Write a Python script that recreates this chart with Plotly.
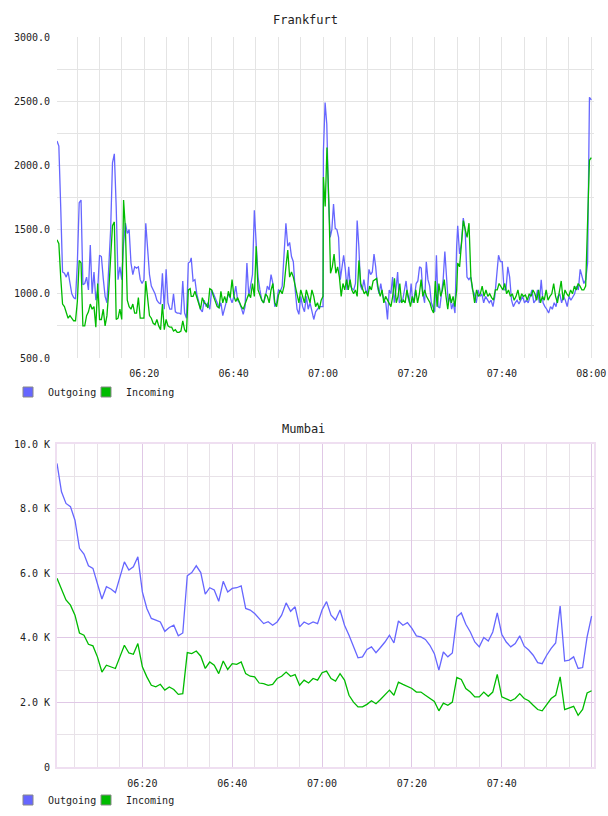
import pandas as pd
import plotly.graph_objects as go

DAY = '2024-01-01 '
MONO = 'DejaVu Sans Mono'
BLUE = '#6666ff'
GREEN = '#00bb00'
FRA_GRID = '#e4e4e4'
MUM_MAJOR = '#e0c8e6'
MUM_MINOR = '#e8e2e8'
MUM_FRAME = '#efdff1'

# ---------------- Frankfurt (30 s samples, four read-off segments) ----------------
FRA_SEG_START = ['06:00:30', '06:30:31', '07:00:05', '07:30:07']
FRA_SEG_END = ['06:30:17', '07:00:00', '07:29:53', '08:00:00']

fra_out_1 = [2190, 2150, 1680, 1170, 1160, 1130, 1170, 1080, 1000, 970,
             960, 1240, 1710, 1730, 1070, 1080, 1130, 1030, 1380, 1000,
             1170, 950, 1030, 1300, 1290, 1120, 980, 930, 1260, 1500,
             2020, 2090, 1680, 1110, 1210, 1110, 1390, 1550, 1470, 1500,
             1240, 1150, 1210, 1200, 1210, 1110, 1080, 1110, 1550, 1340,
             1150, 1060, 1030, 1000, 950, 930, 920, 1160, 880, 1190,
             930, 880, 880, 1000, 860, 850, 850, 840, 1100, 850,
             810, 1240, 1250]
fra_in_1 = [1420, 1390, 1130, 920, 900, 860, 810, 830, 810, 790,
            790, 940, 1260, 1240, 750, 750, 830, 860, 920, 880,
            900, 740, 1080, 800, 800, 880, 750, 830, 1030, 1240,
            1530, 1560, 800, 810, 880, 800, 1730, 1500, 950, 900,
            880, 920, 850, 850, 970, 810, 810, 810, 1100, 980,
            830, 810, 770, 760, 800, 750, 720, 920, 720, 800,
            750, 740, 740, 710, 720, 700, 700, 710, 790, 720,
            700, 1030, 1040]
fra_out_2 = [1280, 1100, 1110, 1000, 950, 880, 860, 950, 900, 930,
             880, 1030, 1000, 970, 930, 890, 930, 830, 880, 930,
             1000, 970, 930, 980, 1060, 950, 930, 890, 840, 900,
             1240, 980, 1080, 1150, 1650, 1340, 1130, 1030, 950, 930,
             980, 1060, 1030, 1150, 1080, 900, 930, 1030, 1020, 1060,
             1290, 1550, 1370, 1400, 1290, 1250, 1030, 880, 840, 980,
             900, 860, 980, 880, 930, 850, 800, 860, 880, 900,
             900, 900]
fra_in_2 = [980, 980, 1020, 970, 930, 880, 970, 930, 920, 890,
            1040, 1030, 980, 930, 900, 890, 1020, 930, 980, 930,
            1020, 970, 1110, 980, 940, 970, 930, 900, 880, 920,
            970, 1000, 970, 1080, 980, 1370, 1030, 980, 950, 930,
            1000, 980, 930, 1030, 1080, 930, 900, 990, 1030, 1000,
            1060, 1210, 1340, 1130, 1170, 1130, 1060, 980, 930, 1030,
            980, 930, 1030, 980, 930, 1030, 980, 900, 930, 880,
            950, 980]
fra_out_3 = [2110, 2490, 2320, 1750, 1440, 1500, 1700, 1510, 1500, 1440,
             1110, 1190, 1300, 1190, 1030, 1210, 1060, 1040, 1030, 1080,
             1570, 1370, 1060, 1030, 1110, 1030, 1000, 1190, 1150, 1170,
             1310, 1210, 1060, 1000, 1080, 1000, 950, 930, 800, 1030,
             1000, 1130, 930, 1030, 1170, 930, 950, 950, 1030, 1100,
             980, 930, 1080, 930, 980, 1080, 1100, 1210, 1200, 1000,
             930, 1250, 1110, 1060, 930, 900, 860, 1300, 900, 890,
             1030, 1110, 1330, 1080, 930, 980, 880, 930, 850, 1370]
fra_in_3 = [1910, 1680, 2140, 1750, 1160, 1210, 1310, 1160, 1210, 1130,
            980, 1080, 1030, 1110, 1030, 1110, 1030, 1000, 1030, 980,
            1260, 1080, 1030, 1000, 1020, 980, 1060, 1030, 1100, 1110,
            1120, 1030, 980, 1030, 930, 980, 950, 930, 900, 980,
            1120, 930, 980, 1080, 930, 950, 930, 1030, 950, 900,
            980, 930, 1030, 930, 1000, 1110, 980, 1030, 980, 950,
            930, 880, 850, 1100, 900, 1080, 980, 1030, 1110, 980,
            880, 1000, 930, 980, 900, 1030]
fra_out_4 = [1530, 1310, 1390, 1590, 1500, 1130, 1110, 1130, 1030, 1000,
             930, 1030, 980, 1000, 930, 980, 950, 930, 950, 900,
             980, 1130, 1300, 1250, 1250, 1030, 1030, 1210, 1130, 950,
             900, 930, 950, 920, 950, 980, 930, 950, 930, 980,
             1030, 930, 950, 1030, 930, 1110, 930, 900, 880, 850,
             900, 880, 930, 900, 980, 1000, 930, 980, 950, 900,
             980, 950, 980, 1000, 1060, 1030, 1190, 1130, 1080, 1110,
             1240, 2530, 2510]
fra_in_4 = [1240, 1210, 1390, 1570, 1500, 1440, 1550, 1130, 1030, 930,
            1030, 980, 1000, 1060, 980, 1030, 980, 1000, 970, 950,
            1030, 1030, 1080, 1060, 1030, 1080, 1000, 1030, 980, 1000,
            950, 980, 1030, 950, 1000, 980, 990, 950, 1000, 980,
            1030, 1000, 950, 1030, 930, 980, 950, 1030, 950, 980,
            1000, 1080, 980, 930, 1030, 1100, 950, 1030, 1000, 980,
            1030, 1000, 1060, 1030, 1080, 1060, 1030, 1030, 1060, 1550,
            2040, 2060]

FRA_Y_TICKS = [500, 1000, 1500, 2000, 2500, 3000]
FRA_X_LABELS = ['06:20', '06:40', '07:00', '07:20', '07:40', '08:00']

# ---------------- Mumbai (1 min samples from 06:01) ----------------
MUM_START = '06:01'
mum_out = [9400, 8520, 8160, 8060, 7640, 6770, 6590, 6230, 6150, 5680,
           5200, 5580, 5510, 5400, 5840, 6350, 6100, 6200, 6510, 5420,
           4910, 4600, 4550, 4490, 4200, 4320, 4390, 4060, 4150, 5920,
           6020, 6230, 6020, 5350, 5550, 5480, 5130, 5750, 5420, 5530,
           5550, 5610, 4910, 4860, 4750, 4600, 4440, 4500, 4390, 4490,
           4700, 5080, 4820, 4960, 4340, 4490, 4420, 4490, 4440, 4860,
           5120, 4700, 4550, 4860, 4390, 4080, 3720, 3380, 3410, 3640,
           3720, 3540, 3700, 3870, 4080, 3840, 4520, 4390, 4470, 4290,
           4060, 4030, 3950, 3770, 3510, 3000, 3560, 3410, 3530, 4650,
           4770, 4420, 4180, 3870, 3720, 4010, 3900, 4180, 4770, 4110,
           3870, 3720, 3820, 4060, 3740, 3620, 3460, 3230, 3200, 3460,
           3670, 3840, 4980, 3280, 3310, 3410, 3050, 3080, 4030, 4670]
mum_in = [5840, 5530, 5170, 5010, 4700, 4150, 4080, 3800, 3750, 3410,
          2940, 3150, 3100, 3050, 3410, 3770, 3530, 3490, 3820, 3100,
          2790, 2530, 2480, 2560, 2380, 2480, 2400, 2250, 2270, 3540,
          3510, 3590, 3430, 3050, 3250, 3150, 2890, 3280, 3020, 3200,
          3180, 3250, 2890, 2810, 2790, 2600, 2580, 2530, 2560, 2740,
          2810, 2940, 2810, 2860, 2530, 2690, 2600, 2740, 2690, 2920,
          2970, 2740, 2660, 2890, 2690, 2220, 2010, 1860, 1860, 1940,
          2050, 1960, 2090, 2220, 2380, 2220, 2630, 2560, 2500, 2430,
          2320, 2320, 2220, 2120, 2030, 1740, 1980, 1910, 2010, 2770,
          2710, 2430, 2320, 2170, 2170, 2320, 2190, 2320, 2870, 2170,
          2120, 2050, 2120, 2270, 2120, 2050, 1910, 1780, 1740, 1940,
          2120, 2220, 2790, 1780, 1840, 1880, 1600, 1780, 2290, 2360]

MUM_Y_TICKS = [0, 2000, 4000, 6000, 8000, 10000]
MUM_Y_TEXT = ['0', '2.0 K', '4.0 K', '6.0 K', '8.0 K', '10.0 K']
MUM_X_TICKS = ['06:20', '06:40', '07:00', '07:20', '07:40', '08:00']
MUM_X_TEXT = ['06:20', '06:40', '07:00', '07:20', '07:40', '']


def seg_times(segs):
    out = []
    for s, e, vals in zip(FRA_SEG_START, FRA_SEG_END, segs):
        out.extend(pd.date_range(DAY + s, DAY + e, periods=len(vals)))
    return out


fra_out = fra_out_1 + fra_out_2 + fra_out_3 + fra_out_4
fra_in = fra_in_1 + fra_in_2 + fra_in_3 + fra_in_4
fra_out_t = seg_times([fra_out_1, fra_out_2, fra_out_3, fra_out_4])
fra_in_t = seg_times([fra_in_1, fra_in_2, fra_in_3, fra_in_4])
mum_t = pd.date_range(DAY + MUM_START, periods=len(mum_out), freq='1min')

fig = go.Figure()
LW = 1.3
fig.add_trace(go.Scatter(x=fra_out_t, y=fra_out, mode='lines', line=dict(color=BLUE, width=LW),
                         xaxis='x', yaxis='y', showlegend=False, name='Outgoing'))
fig.add_trace(go.Scatter(x=fra_in_t, y=fra_in, mode='lines', line=dict(color=GREEN, width=LW),
                         xaxis='x', yaxis='y', showlegend=False, name='Incoming'))
fig.add_trace(go.Scatter(x=mum_t, y=mum_out, mode='lines', line=dict(color=BLUE, width=LW),
                         xaxis='x2', yaxis='y2', showlegend=False, name='Outgoing'))
fig.add_trace(go.Scatter(x=mum_t, y=mum_in, mode='lines', line=dict(color=GREEN, width=LW),
                         xaxis='x2', yaxis='y2', showlegend=False, name='Incoming'))

for lg, xa, ya in [('legend', 'x', 'y'), ('legend2', 'x2', 'y2')]:
    for name, col in [('Outgoing', BLUE), ('Incoming', GREEN)]:
        fig.add_trace(go.Scatter(x=[None], y=[None], mode='markers', name=name,
                                 marker=dict(symbol='square', size=10, color=col,
                                             line=dict(color='#888888', width=1)),
                                 xaxis=xa, yaxis=ya, legend=lg, showlegend=True))
    # empty spacer entry so the last label is not clipped by the fixed entry width
    fig.add_trace(go.Scatter(x=[None], y=[None], mode='markers', name=' ',
                             marker=dict(symbol='square', size=1, color='rgba(0,0,0,0)',
                                         line=dict(width=0)),
                             xaxis=xa, yaxis=ya, legend=lg, showlegend=True, hoverinfo='skip'))

tickfont = dict(family=MONO, size=10, color='#222222')
XD = [57 / 608, 594 / 608]
legfont = dict(family=MONO, size=10, color='#222222')

fig.update_layout(
    template='none',
    width=608, height=816, margin=dict(l=0, r=0, t=0, b=0, pad=0),
    paper_bgcolor='white', plot_bgcolor='white',
    xaxis=dict(domain=XD, anchor='y', type='date', automargin=False,
               range=[DAY + '06:00:30', DAY + '08:00:36'],
               tickmode='array', tickvals=[DAY + t for t in FRA_X_LABELS], ticktext=FRA_X_LABELS,
               showgrid=True, gridcolor=FRA_GRID, gridwidth=1,
               minor=dict(dtick=300000, tick0=DAY + '06:00', showgrid=True, gridcolor=FRA_GRID, gridwidth=1),
               showline=True, linecolor='white', linewidth=2, mirror=True, layer='below traces',
               ticks='', tickfont=tickfont, ticklabelstandoff=5, zeroline=False),
    yaxis=dict(domain=[1 - 358 / 816, 1 - 37 / 816], anchor='x', range=[500, 3000], automargin=False,
               tickmode='array', tickvals=FRA_Y_TICKS, ticktext=['%.1f' % v for v in FRA_Y_TICKS],
               showgrid=True, gridcolor=FRA_GRID, gridwidth=1,
               minor=dict(dtick=250, tick0=0, showgrid=True, gridcolor=FRA_GRID, gridwidth=1),
               showline=True, linecolor='white', linewidth=2, mirror=True, layer='below traces',
               ticks='', tickfont=tickfont, ticklabelstandoff=3, zeroline=False),
    xaxis2=dict(domain=XD, anchor='y2', type='date', automargin=False,
                range=[DAY + '06:01:00', DAY + '08:00:32'],
                tickmode='array', tickvals=[DAY + t for t in MUM_X_TICKS], ticktext=MUM_X_TEXT,
                showgrid=True, gridcolor=MUM_MAJOR, gridwidth=1,
                minor=dict(dtick=300000, tick0=DAY + '06:00', showgrid=True, gridcolor=MUM_MINOR, gridwidth=1),
                showline=True, linecolor=MUM_FRAME, linewidth=2, mirror=True, layer='below traces',
                ticks='', tickfont=tickfont, ticklabelstandoff=6, zeroline=False),
    yaxis2=dict(domain=[1 - 767 / 816, 1 - 444 / 816], anchor='x2', range=[0, 10000], automargin=False,
                tickmode='array', tickvals=MUM_Y_TICKS, ticktext=MUM_Y_TEXT,
                showgrid=True, gridcolor=MUM_MAJOR, gridwidth=1,
                minor=dict(dtick=1000, tick0=0, showgrid=True, gridcolor=MUM_MINOR, gridwidth=1),
                showline=True, linecolor=MUM_FRAME, linewidth=2, mirror=True, layer='below traces',
                ticks='', tickfont=tickfont, ticklabelstandoff=3, zeroline=False),
    legend=dict(orientation='h', x=8 / 608, y=1 - 392 / 816, xanchor='left', yanchor='middle',
                font=legfont, bgcolor='rgba(0,0,0,0)', itemwidth=30, entrywidth=33,
                borderwidth=0, itemclick=False, itemdoubleclick=False),
    legend2=dict(orientation='h', x=8 / 608, y=1 - 800 / 816, xanchor='left', yanchor='middle',
                 font=legfont, bgcolor='rgba(0,0,0,0)', itemwidth=30, entrywidth=33,
                 borderwidth=0, itemclick=False, itemdoubleclick=False),
    annotations=[
        dict(text='Frankfurt', x=305 / 608, y=1 - 20 / 816, xref='paper', yref='paper',
             showarrow=False, font=dict(family=MONO, size=12, color='#222222'),
             xanchor='center', yanchor='middle'),
        dict(text='Mumbai', x=303 / 608, y=1 - 429 / 816, xref='paper', yref='paper',
             showarrow=False, font=dict(family=MONO, size=12, color='#222222'),
             xanchor='center', yanchor='middle'),
    ],
)

fig.write_html('out.html')
